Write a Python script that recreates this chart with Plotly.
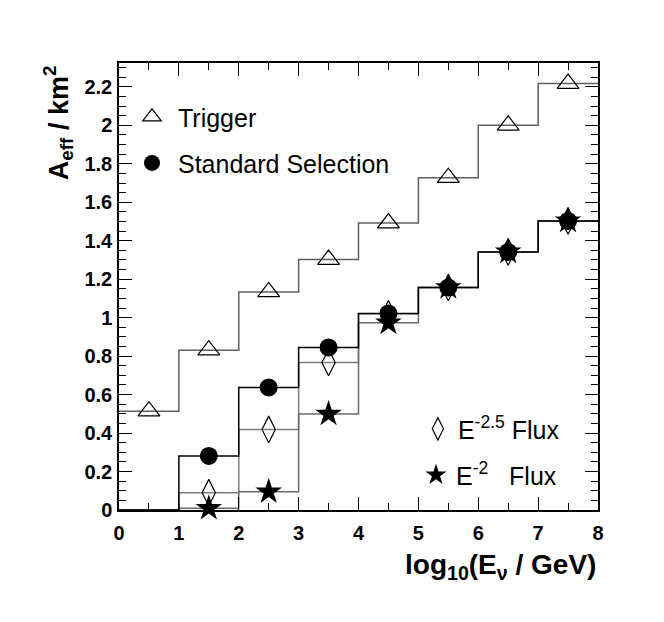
import plotly.graph_objects as go

# log10(E/GeV) bins, effective area in km^2
bin_edges = [0, 1, 2, 3, 4, 5, 6, 7, 8]
bin_centers = [0.5, 1.5, 2.5, 3.5, 4.5, 5.5, 6.5, 7.5]

trigger = [0.514, 0.831, 1.134, 1.302, 1.492, 1.728, 2.000, 2.217]
standard = [None, 0.281, 0.637, 0.845, 1.022, 1.157, 1.342, 1.503]
flux_e25 = [None, 0.090, 0.419, 0.767, 1.020, 1.157, 1.342, 1.503]
flux_e2 = [None, 0.009, 0.095, 0.499, 0.973, 1.157, 1.342, 1.503]

FONT = "Liberation Sans"


def steps(vals):
    v = [0 if x is None else x for x in vals]
    return v + [v[-1]]


fig = go.Figure()

# histogram outlines
for vals, col in [(trigger, "#5f5f5f"), (flux_e25, "#7c7c7c"),
                  (flux_e2, "#6a6a6a"), (standard, "black")]:
    fig.add_trace(go.Scatter(x=bin_edges, y=steps(vals), mode="lines",
                             line=dict(shape="hv", color=col, width=1.5),
                             showlegend=False, hoverinfo="skip"))

# markers (also used as legend entries)
fig.add_trace(go.Scatter(x=bin_centers, y=trigger, mode="markers", name="Trigger",
                         marker=dict(symbol="triangle-up-open", size=19, color="black",
                                     line=dict(width=1.2, color="black")),
                         legend="legend", cliponaxis=False))
fig.add_trace(go.Scatter(x=bin_centers, y=flux_e25, mode="markers",
                         name="E<sup>-2.5</sup> Flux",
                         marker=dict(symbol="diamond-tall-open", size=19, color="black",
                                     line=dict(width=1.2, color="black")),
                         legend="legend3", cliponaxis=False))
fig.add_trace(go.Scatter(x=bin_centers, y=flux_e2, mode="markers",
                         name="E<sup>-2</sup>\u00a0\u00a0\u00a0Flux",
                         marker=dict(symbol="star", size=20, color="black",
                                     line=dict(width=0)),
                         legend="legend4", cliponaxis=False))
fig.add_trace(go.Scatter(x=bin_centers, y=standard, mode="markers",
                         name="Standard Selection",
                         marker=dict(symbol="circle", size=18, color="black",
                                     line=dict(width=0)),
                         legend="legend2", cliponaxis=False))

leg = dict(bgcolor="rgba(0,0,0,0)", xanchor="left", yanchor="middle",
           font=dict(family=FONT, size=25, color="black"), itemsizing="trace")

axis_common = dict(showline=True, linecolor="black", linewidth=1.5, mirror="allticks",
                   ticks="inside", ticklen=13, tickwidth=1, tickcolor="black",
                   showgrid=False, zeroline=False,
                   tickfont=dict(family=FONT, size=20, color="black", weight="bold"))

fig.update_xaxes(range=[0, 8], dtick=1, tick0=0,
                 minor=dict(dtick=0.5, ticklen=7, tickcolor="black", ticks="inside"),
                 ticklabelstandoff=4, **axis_common)
fig.update_yaxes(range=[0, 2.324], dtick=0.2, tick0=0,
                 minor=dict(dtick=0.05, ticklen=7, tickcolor="black", ticks="inside"),
                 ticklabelstandoff=1, **axis_common)

# page body adds 8px offset, so figure is 8px smaller on top/left
fig.update_layout(
    width=656, height=614,
    margin=dict(l=111, r=66, t=55, b=112),
    paper_bgcolor="white", plot_bgcolor="white",
    legend=dict(x=0.0146, y=0.879, itemwidth=42, **leg),
    legend2=dict(x=0.0146, y=0.776, itemwidth=42, **leg),
    legend3=dict(x=0.624, y=0.181, **leg),
    legend4=dict(x=0.62, y=0.078, **leg),
    annotations=[
        dict(text="log<sub>10</sub>(E<sub>\u03bd</sub> / GeV)", xref="paper", yref="paper",
             x=1.0, y=-0.1275, xanchor="right", yanchor="middle", showarrow=False,
             font=dict(family=FONT, size=28, color="black", weight="bold")),
        dict(text="A<sub>eff</sub> / km<sup>2</sup>", xref="paper", yref="paper",
             x=-0.128, y=1.0, xanchor="center", yanchor="top", textangle=-90,
             showarrow=False,
             font=dict(family=FONT, size=27, color="black", weight="bold")),
    ],
)

fig.write_html("out.html")
